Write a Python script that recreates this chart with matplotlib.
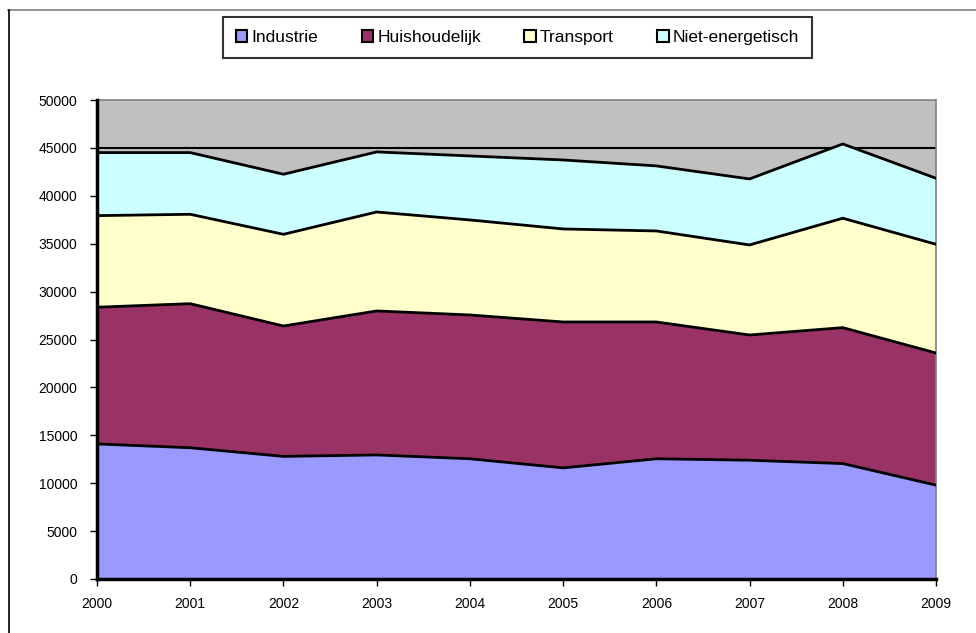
import matplotlib
matplotlib.use("Agg")
import matplotlib.pyplot as plt
import numpy as np
from matplotlib.patches import Patch
from matplotlib.lines import Line2D

years = [2000, 2001, 2002, 2003, 2004, 2005, 2006, 2007, 2008, 2009]
industrie = [14100, 13700, 12800, 12950, 12550, 11600, 12550, 12400, 12050, 9800]
huishoudelijk = [14270, 15040, 13610, 15030, 15010, 15230, 14280, 13070, 14190, 13790]
transport = [9560, 9330, 9570, 10330, 9920, 9710, 9500, 9400, 11420, 11350]
niet_energetisch = [6580, 6440, 6270, 6270, 6680, 7200, 6790, 6890, 7750, 6890]
labels = ["Industrie", "Huishoudelijk", "Transport", "Niet-energetisch"]
colors = ["#9999FF", "#993366", "#FFFFCC", "#CCFFFF"]
yticks = list(range(0, 50001, 5000))

plt.rcParams['font.family'] = ['Liberation Sans', 'DejaVu Sans']

fig = plt.figure(figsize=(9.76, 6.33), dpi=100)
ax = fig.add_axes([97/976, 1-579/633, (936-97)/976, (579-100)/633])
ax.set_facecolor("#C0C0C0")

series = [industrie, huishoudelijk, transport, niet_energetisch]
base = np.zeros(len(years))
for s, c in zip(series, colors):
    top = base + np.array(s)
    ax.fill_between(years, base, top, facecolor=c, linewidth=0, zorder=2)
    base = top
base = np.zeros(len(years))
for s in series:
    base = base + np.array(s)
    ax.plot(years, base, color="black", lw=2, zorder=3, solid_joinstyle="round")

ax.axhline(45000, color="black", lw=1.5, zorder=1)

ax.set_xlim(years[0], years[-1])
ax.set_ylim(0, 50000)
ax.set_xticks(years)
ax.set_xticklabels([str(y) for y in years])
ax.set_yticks(yticks)
ax.set_yticklabels([str(v) for v in yticks])
ax.tick_params(axis="both", direction="out", length=5, width=1, labelsize=10, colors="black")
ax.tick_params(axis="y", pad=9)
ax.tick_params(axis="x", pad=8)

for sp in ["left", "bottom"]:
    ax.spines[sp].set_color("black")
    ax.spines[sp].set_linewidth(2.5)
    ax.spines[sp].set_zorder(5)
for sp in ["top", "right"]:
    ax.spines[sp].set_color("#808080")
    ax.spines[sp].set_linewidth(1.2)

handles = [Patch(facecolor=c, edgecolor="black", linewidth=1.5) for c in colors]
leg = fig.legend(handles, labels, loc="center", ncol=4,
                 bbox_to_anchor=(517.5/976, 1-37.5/633),
                 frameon=True, fancybox=False, edgecolor="black",
                 handlelength=0.65, handleheight=0.65, handletextpad=0.25,
                 columnspacing=2.5, fontsize=12.5, borderpad=0.75,
                 borderaxespad=0)
leg.get_frame().set_linewidth(1.5)

# figure border lines (top gray, left black)
fig.add_artist(Line2D([8/976, 1], [1-10/633, 1-10/633], color="#808080", lw=1.2, transform=fig.transFigure))
fig.add_artist(Line2D([9/976, 9/976], [0, 1-10/633], color="black", lw=1.2, transform=fig.transFigure))

fig.savefig("out.png", dpi=100)
